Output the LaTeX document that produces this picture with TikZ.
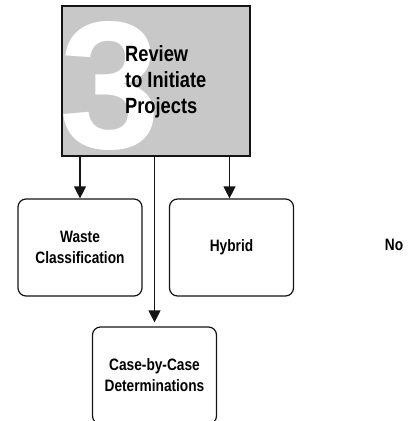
\documentclass[tikz,border=0pt]{standalone}
\usepackage{fontspec}
\usepackage{xcolor}
\usepackage{tikz}
\usetikzlibrary{arrows.meta, positioning, calc}
\setmainfont{Liberation Sans}
\newfontfamily\condfont{Liberation Sans}[FakeStretch=0.83]
\definecolor{reviewgray}{RGB}{200, 200, 200}
\definecolor{inkblack}{RGB}{20, 20, 20}

\tikzset{
    stepbox/.style={draw=inkblack, line width=1.2pt, rounded corners=8pt,
        minimum width=124pt, minimum height=97pt, align=center,
        font=\condfont\bfseries\fontsize{16.5}{21}\selectfont},
    flowarrow/.style={draw=inkblack, line width=1.2pt, -{Triangle[width=12pt,length=12pt]}}
}

\begin{document}
\begin{tikzpicture}[x=1pt, y=-1pt]
    \useasboundingbox (0,0) rectangle (414,421);
    % step 3 header
    \node[fill=reviewgray, draw=inkblack, line width=1.5pt, inner sep=0pt,
          minimum width=188pt, minimum height=150pt] (review) at (156,80.8) {};
    \node[anchor=base west, inner sep=0pt, text=white,
          font=\bfseries\fontsize{182}{182}\selectfont] (bignum) at (59,148) {3};
    \node[anchor=north west, inner sep=0pt, align=left,
          font=\condfont\bfseries\fontsize{22}{26}\selectfont] (reviewtxt) at (125,45)
          {Review\\to Initiate\\Projects};

    % outcomes
    \node[stepbox] (waste) at (80,247.5) {Waste\\Classification};
    \node[stepbox] (hybrid) at (231.5,247.5) {Hybrid};
    \node[stepbox] (casebycase) at (154.5,375.5) {Case-by-Case\\Determinations};
    \node[font=\condfont\bfseries\fontsize{16.5}{21}\selectfont] (no) at (394,245) {No};

    \draw[flowarrow] (review.south -| waste.north) -- (waste.north);
    \draw[flowarrow] ([xshift=-2pt]review.south -| hybrid.north) -- ([xshift=-2pt]hybrid.north);
    \draw[flowarrow, shorten >=4pt] (review.south -| casebycase.north) -- (casebycase.north);
\end{tikzpicture}
\end{document}
